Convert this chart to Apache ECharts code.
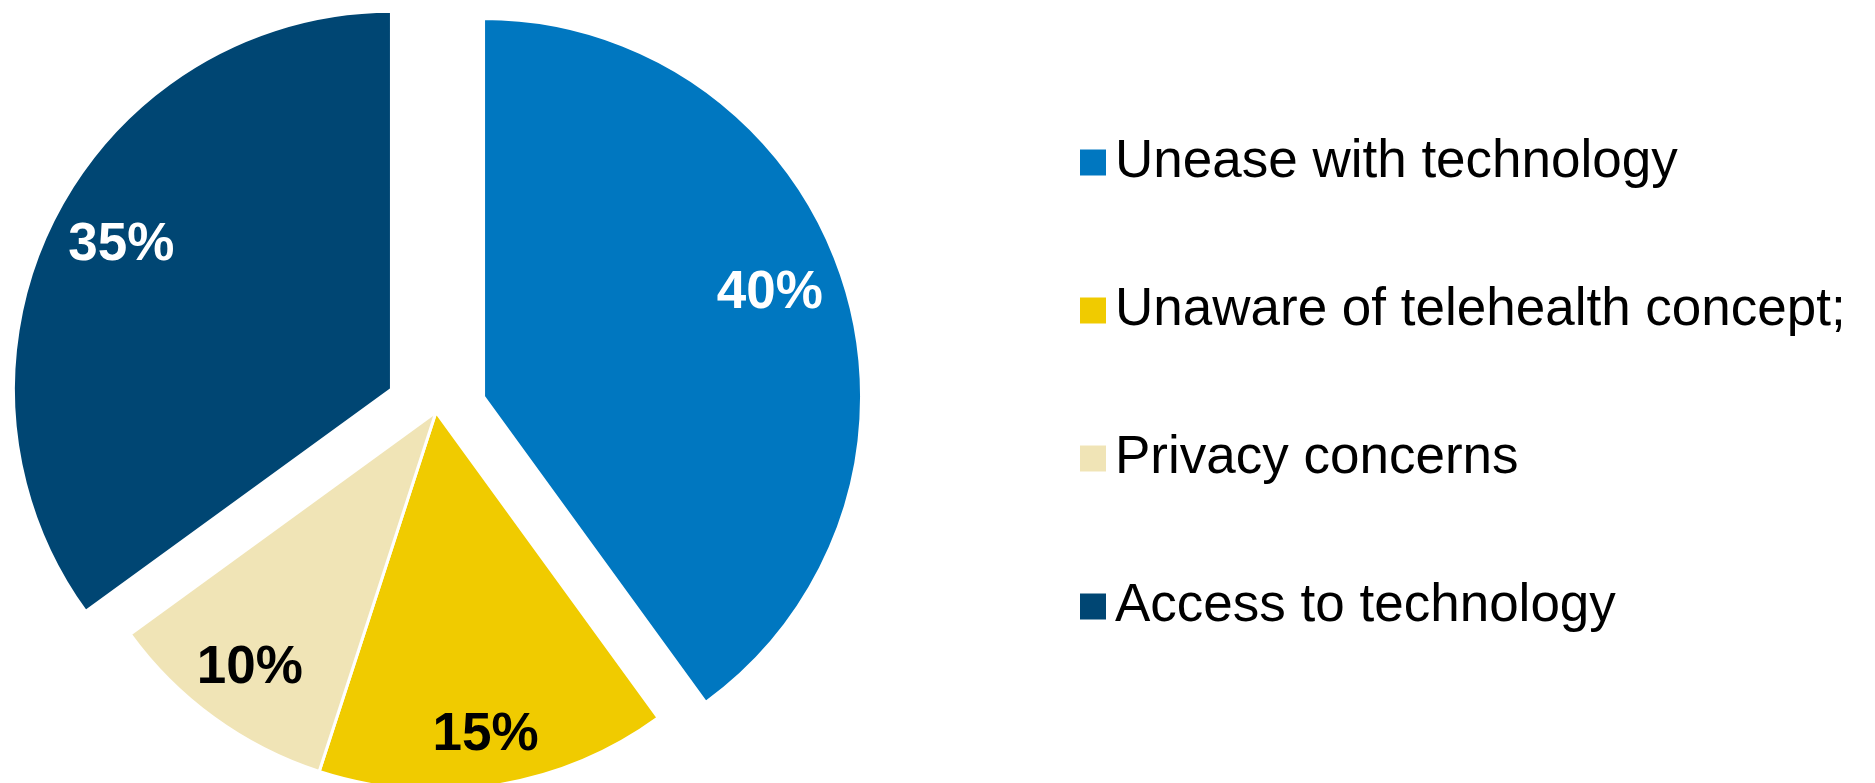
<!DOCTYPE html>
<html>
<head>
<meta charset="utf-8">
<script src="https://cdn.jsdelivr.net/npm/echarts@6/dist/echarts.min.js"></script>
<style>
html,body{margin:0;padding:0;background:#fff;}
#chart{width:1875px;height:783px;}
</style>
</head>
<body>
<div id="chart"></div>
<script>
const categories = ['Unease with technology', 'Unaware of telehealth concept;', 'Privacy concerns', 'Access to technology'];
const values = [40, 15, 10, 35];
const colors = ['#0077C0', '#F0CB00', '#F0E4B6', '#004673'];
const labelColors = ['#ffffff', '#000000', '#000000', '#ffffff'];
const explodedSlices = ['Unease with technology', 'Access to technology'];
// small label padding tweaks [top, right, bottom, left]
const labelPadding = [[0, 30, 10, 0], [22, 0, 0, 0], [0, 0, 0, 0], [0, 0, 0, 24]];

const chart = echarts.init(document.getElementById('chart'), null, {renderer: 'canvas'});

const pieData = categories.map((name, i) => ({
  name: name,
  value: values[i],
  selected: explodedSlices.includes(name),
  itemStyle: {color: colors[i]}
}));

const labelData = categories.map((name, i) => ({
  name: name,
  value: values[i],
  selected: explodedSlices.includes(name),
  label: {
    color: labelColors[i],
    rich: {
      v: {
        color: labelColors[i],
        fontFamily: 'Liberation Sans, Arial, sans-serif',
        fontWeight: 'bold',
        fontSize: 53,
        padding: labelPadding[i]
      }
    }
  }
}));

const CX = 436, CY = 412, R = 378;
const labelRatio = 0.83;

const option = {
  animation: false,
  backgroundColor: '#ffffff',
  legend: {
    data: categories,
    orient: 'vertical',
    left: 1073,
    top: 131,
    itemWidth: 28,
    itemHeight: 28,
    itemGap: 95,
    icon: 'rect',
    selectedMode: false,
    textStyle: {
      fontFamily: 'Liberation Sans, Arial, sans-serif',
      fontSize: 53,
      lineHeight: 53,
      color: '#000',
      padding: [0, 0, 0, 3]
    }
  },
  series: [
    {
      type: 'pie',
      center: [CX, CY],
      radius: R,
      startAngle: 90,
      clockwise: true,
      selectedMode: 'multiple',
      selectedOffset: 50,
      avoidLabelOverlap: false,
      label: {show: false},
      labelLine: {show: false},
      itemStyle: {borderColor: '#ffffff', borderWidth: 3},
      select: {itemStyle: {borderColor: '#ffffff', borderWidth: 3}},
      emphasis: {disabled: true},
      data: pieData
    },
    {
      type: 'pie',
      center: [CX, CY],
      radius: R * labelRatio * 2,
      startAngle: 90,
      clockwise: true,
      selectedMode: 'multiple',
      selectedOffset: 50,
      silent: true,
      avoidLabelOverlap: false,
      z: 5,
      itemStyle: {color: 'rgba(0,0,0,0)', borderWidth: 0},
      select: {itemStyle: {color: 'rgba(0,0,0,0)', borderWidth: 0}},
      emphasis: {disabled: true},
      labelLine: {show: false},
      label: {
        show: true,
        position: 'inside',
        formatter: '{v|{c}%}',
        fontFamily: 'Liberation Sans, Arial, sans-serif',
        fontWeight: 'bold',
        fontSize: 53
      },
      data: labelData
    }
  ]
};
chart.setOption(option);
</script>
</body>
</html>
